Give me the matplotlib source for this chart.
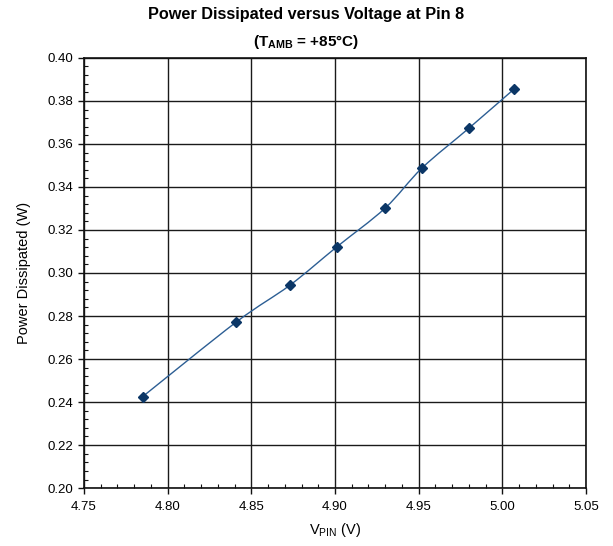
import matplotlib
matplotlib.use("Agg")
import matplotlib.pyplot as plt
from matplotlib.patches import PathPatch
from matplotlib.path import Path
from matplotlib.ticker import MultipleLocator, FormatStrFormatter
import numpy as np

# values
v_pin = [4.785, 4.841, 4.873, 4.901, 4.930, 4.952, 4.980, 5.007]
power = [0.2425, 0.2772, 0.2943, 0.3121, 0.3302, 0.3488, 0.3673, 0.3855]

LINE_COLOR = "#2C5E94"
MARK_COLOR = "#0B3666"

plt.rcParams.update(
    {
        "font.family": ["Liberation Sans", "DejaVu Sans"],
        "mathtext.fontset": "custom",
        "mathtext.rm": "Liberation Sans",
        "mathtext.bf": "Liberation Sans:bold",
        "font.size": 9.5,
    }
)


def smooth_path(xs, ys):
    # Bezier segments (Catmull-Rom style) like the smoothed line in the original
    pts = np.column_stack([xs, ys])
    verts = [pts[0]]
    codes = [Path.MOVETO]
    n = len(pts)
    for i in range(n - 1):
        p0 = pts[max(i - 1, 0)]
        p1 = pts[i]
        p2 = pts[i + 1]
        p3 = pts[min(i + 2, n - 1)]
        c1 = p1 + (p2 - p0) / 6.0
        c2 = p2 - (p3 - p1) / 6.0
        verts.extend([c1, c2, p2])
        codes.extend([Path.CURVE4] * 3)
    return Path(verts, codes)


fig = plt.figure(figsize=(6.13, 5.46), dpi=100, facecolor="white")
ax = fig.add_axes([0.137, 0.106, 0.819, 0.788])

ax.add_patch(PathPatch(smooth_path(v_pin, power), facecolor="none", edgecolor=LINE_COLOR, linewidth=1.0, zorder=3))
ax.plot(v_pin, power, linestyle="none", marker="D", markersize=5, color=MARK_COLOR, zorder=4)

ax.set_xlim(4.75, 5.05)
ax.set_ylim(0.20, 0.40)
ax.xaxis.set_major_locator(MultipleLocator(0.05))
ax.xaxis.set_minor_locator(MultipleLocator(0.01))
ax.yaxis.set_major_locator(MultipleLocator(0.02))
ax.yaxis.set_minor_locator(MultipleLocator(0.004))
ax.xaxis.set_major_formatter(FormatStrFormatter("%.2f"))
ax.yaxis.set_major_formatter(FormatStrFormatter("%.2f"))
ax.tick_params(which="major", direction="out", length=4, width=1.0, color="#111111", labelsize=9.5)
ax.tick_params(which="minor", direction="in", length=3, width=0.8, color="#111111")
ax.tick_params(axis="x", which="major", pad=5)

ax.grid(which="major", color="#1A1A1A", linewidth=1.0)
ax.set_axisbelow(True)
for side in ax.spines.values():
    side.set_linewidth(1.2)
    side.set_color("#111111")

ax.set_xlabel(r"V$_{\mathregular{PIN}}$ (V)", fontsize=10.5, labelpad=6)
ax.set_ylabel("Power Dissipated (W)", fontsize=10.5, labelpad=12)

fig.text(0.5, 0.973, "Power Dissipated versus Voltage at Pin 8", ha="center", va="center",
         fontsize=11.7, fontweight="bold")
fig.text(0.5, 0.923, r"(T$_{\mathbf{AMB}}$ = +85°C)", ha="center", va="center",
         fontsize=11, fontweight="bold")

fig.savefig("out.png", dpi=100, facecolor="white")
